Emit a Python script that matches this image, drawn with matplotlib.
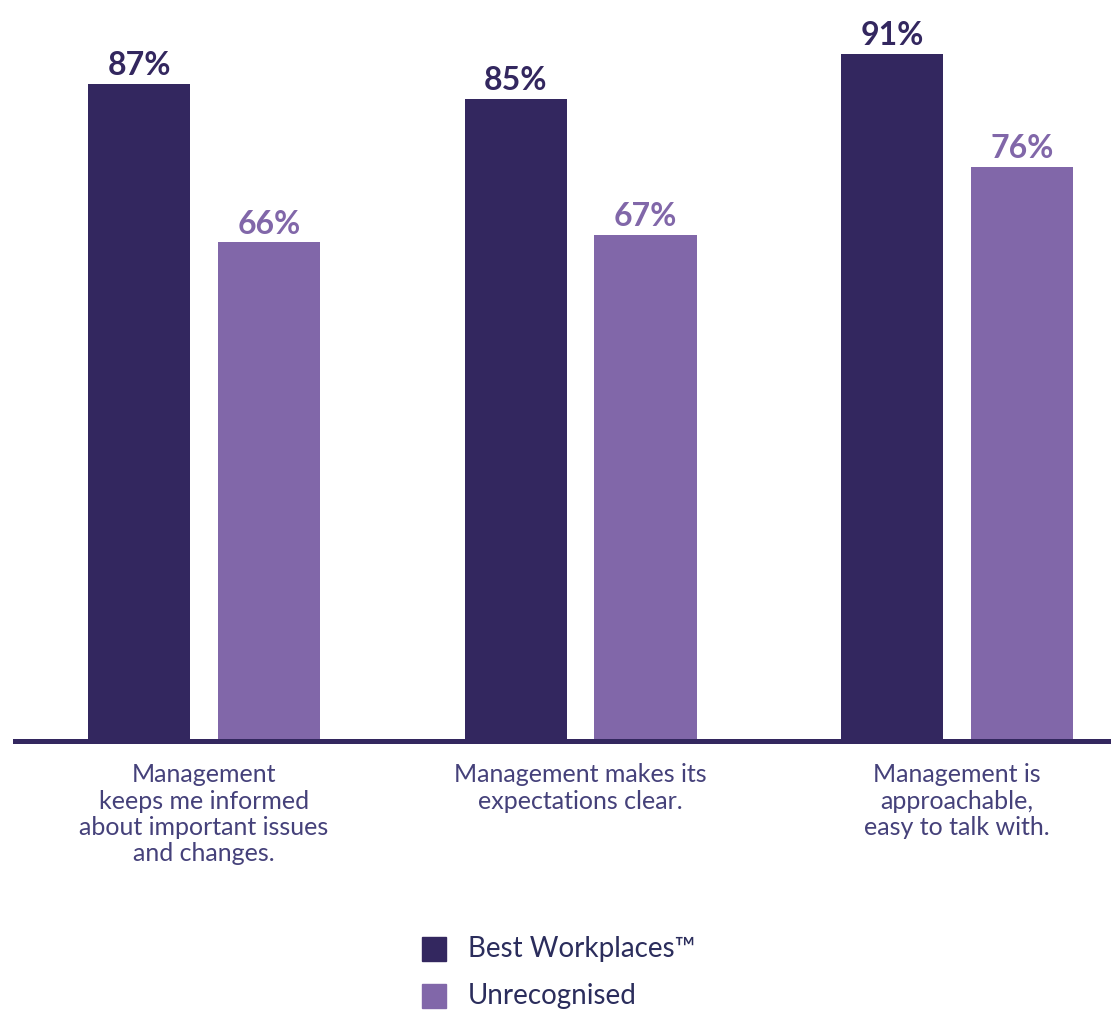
import numpy as np
import matplotlib.pyplot as plt
from matplotlib.patches import Rectangle

categories = ["Management\nkeeps me informed\nabout important issues\nand changes.",
              "Management makes its\nexpectations clear.",
              "Management is\napproachable,\neasy to talk with."]
best = [87, 85, 91]
unrec = [66, 67, 76]
series_names = ["Best Workplaces\u2122", "Unrecognised"]

dark = "#33275f"
light = "#8167a9"
label_col = "#45417a"

plt.rcParams['font.family'] = ['Lato', 'DejaVu Sans']

fig = plt.figure(figsize=(11.13, 10.11), dpi=100)
ax = fig.add_axes([15 / 1113, 1 - 741 / 1011, 1093 / 1113, 741 / 1011])

x = np.arange(len(categories))
w = 0.271
off = 0.1726
b1 = ax.bar(x - off, best, w, color=dark)
b2 = ax.bar(x + off, unrec, w, color=light)

for bars, vals, c in [(b1, best, dark), (b2, unrec, light)]:
    for r, v in zip(bars, vals):
        ax.text(r.get_x() + r.get_width() / 2, v + 0.5, f"{v}%",
                ha="center", va="bottom", fontsize=23, fontweight="bold", color=c)

ax.axhline(0, color=dark, lw=3.6, zorder=5, clip_on=False)

ax.set_xlim(-0.502, 2.401)
ax.set_ylim(0, 98.1)
ax.set_xticks(x)
ax.set_xticklabels(categories, fontsize=18, color=label_col, linespacing=1.18)
ax.tick_params(axis="x", length=0, pad=16)
ax.set_yticks([])
for s in ax.spines.values():
    s.set_visible(False)

# legend drawn by hand
W, H = 1113, 1011
for i, (name, c) in enumerate(zip(series_names, [dark, light])):
    top = 937 + i * 47
    fig.add_artist(Rectangle((422 / W, 1 - (top + 24) / H), 24 / W, 24 / H,
                             transform=fig.transFigure, color=c))
    fig.text(468 / W, 1 - (top + 12) / H, name, fontsize=20, color="#2b2d5c",
             va="center", ha="left")

fig.savefig("out.png", dpi=100)
